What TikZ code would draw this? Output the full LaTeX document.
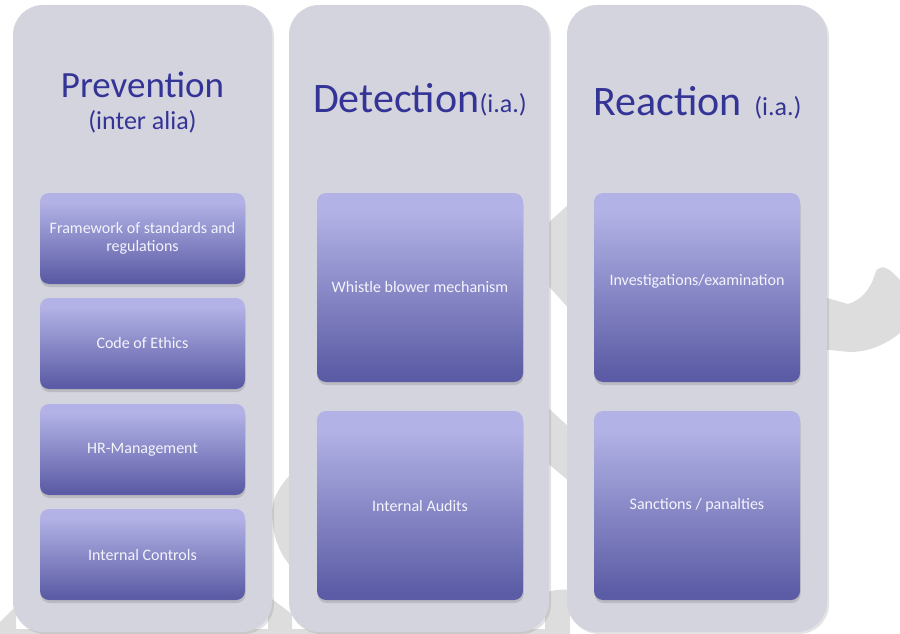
\documentclass[tikz,border=0pt]{standalone}
\usepackage{fontspec}
\setmainfont{Carlito}
\usetikzlibrary{shadows}
\definecolor{panelfill}{RGB}{212,212,222}
\definecolor{boxlt}{RGB}{178,178,230}
\definecolor{boxdk}{RGB}{92,92,166}
\definecolor{headblue}{RGB}{52,52,150}
\definecolor{bggray}{RGB}{221,221,221}
\definecolor{boxtext}{RGB}{244,244,252}
\pgfdeclareverticalshading{boxshade}{100bp}{color(0bp)=(boxdk); color(27bp)=(boxdk); color(70bp)=(boxlt); color(100bp)=(boxlt)}
\begin{document}
\begin{tikzpicture}[x=1pt,y=-1pt,
  panel/.style={rectangle, rounded corners=30pt, fill=panelfill, draw=none, inner sep=0pt,
    drop shadow={opacity=0.22, shadow xshift=2pt, shadow yshift=-2pt}},
  box/.style={rectangle, rounded corners=9pt, shade, shading=boxshade, draw=none, inner sep=0pt,
    text=boxtext, font=\fontsize{16}{18}\selectfont, align=center,
    drop shadow={opacity=0.3, shadow xshift=0.5pt, shadow yshift=-3pt}},
  smallbox/.style={box, minimum width=205pt, minimum height=91pt},
  bigbox/.style={box, minimum width=206pt, minimum height=189pt},
  head/.style={text=headblue, inner sep=0pt, anchor=base}]
\useasboundingbox (0,0) rectangle (900,634);
% background decoration
\fill[bggray] (820,296) -- (848,304) .. controls (862,300) and (871,288) .. (875,274)
  .. controls (877,266) and (884,265) .. (892,272) -- (900,280) -- (900,333)
  .. controls (885,345) and (868,352) .. (850,352) -- (820,349) -- cycle;
\fill[bggray] (545,226) -- (570,203) -- (570,310) -- (545,282) -- cycle;
\fill[bggray] (545,405) -- (570,428) -- (570,482) -- (545,461) -- cycle;
\fill[bggray] (545,593) .. controls (552,590) and (562,589) .. (570,590) -- (570,634) -- (545,634) -- cycle;
\fill[bggray] (292,473) .. controls (280,485) and (271,500) .. (272,515)
  .. controls (273,535) and (278,552) .. (292,568) -- cycle;
\fill[bggray] (268,596) -- (292,614) -- (292,634) -- (268,634) -- cycle;
\fill[bggray] (0,622) -- (16,606) -- (16,634) -- (0,634) -- cycle;
\fill[bggray] (0,629) rectangle (560,634);
% panels
\node[panel, minimum width=259pt, minimum height=627pt] (p1) at (142.5,318.5) {};
\node[panel, minimum width=260pt, minimum height=627pt] (p2) at (419,318.5) {};
\node[panel, minimum width=260pt, minimum height=627pt] (p3) at (697,318.5) {};
% headings
\node[head, font=\fontsize{37}{41}\selectfont] (h1) at (142.5,97) {Prevention};
\node[head, font=\fontsize{26}{30}\selectfont] (h1s) at (142.5,129) {(inter alia)};
\node[head, font=\fontsize{42}{46}\selectfont] (h2) at (420,112) {Detection{\fontsize{26}{30}\selectfont(i.a.)}};
\node[head, font=\fontsize{42}{46}\selectfont] (h3) at (697.5,115) {Reaction\hspace{3pt} {\fontsize{26}{30}\selectfont(i.a.)}};
% prevention boxes
\node[smallbox] (b11) at (142.5,238.5) {Framework of standards and\\regulations};
\node[smallbox] (b12) at (142.5,343.5) {Code of Ethics};
\node[smallbox] (b13) at (142.5,449.5) {HR-Management};
\node[smallbox] (b14) at (142.5,554.5) {Internal Controls};
% detection boxes
\node[bigbox] (b21) at (420,287.5) {Whistle blower mechanism};
\node[bigbox] (b22) at (420,505.5) {Internal Audits};
% reaction boxes
\node[bigbox] (b31) at (697,287.5) {\raisebox{16pt}{Investigations/examination}};
\node[bigbox] (b32) at (697,505.5) {Sanctions / panalties};
\end{tikzpicture}
\end{document}
